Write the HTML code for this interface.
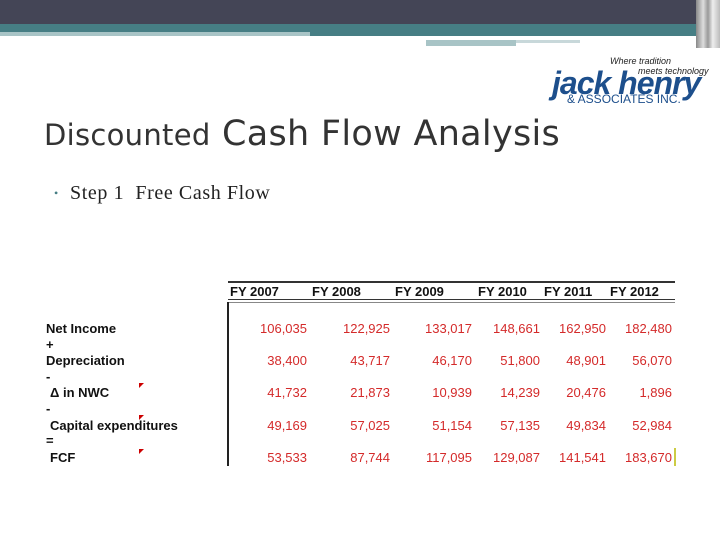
<!DOCTYPE html>
<html><head><meta charset="utf-8"><style>
body{margin:0;width:720px;height:540px;position:relative;background:#fff;overflow:hidden;font-family:"Liberation Sans",sans-serif}
.a{position:absolute}
.lbl{position:absolute;left:46px;font-weight:bold;font-size:13px;color:#111}
.num{position:absolute;font-size:13px;color:#d42a2a;text-align:right;width:80px}
.hd{position:absolute;top:284px;font-weight:bold;font-size:13px;color:#111}
.tri{position:absolute;width:0;height:0;border-top:5px solid #c00;border-right:5px solid transparent}
</style></head><body>
<div class="a" style="left:0;top:0;width:720px;height:24px;background:#444556"></div>
<div class="a" style="left:0;top:24px;width:720px;height:8px;background:#467e84"></div>
<div class="a" style="left:0;top:32px;width:310px;height:4px;background:#a8c4c6"></div>
<div class="a" style="left:310px;top:32px;width:410px;height:4px;background:#467e84"></div>
<div class="a" style="left:426px;top:40px;width:90px;height:6px;background:#a8c4c6"></div>
<div class="a" style="left:516px;top:40px;width:64px;height:3px;background:#c8d8da"></div>
<div class="a" style="left:696px;top:0;width:24px;height:48px;background:linear-gradient(90deg,#888 0,#ddd 30%,#999 50%,#eee 70%,#bbb 100%)"></div>
<div class="a" style="left:610px;top:56px;font-size:9px;font-style:italic;color:#222;line-height:10px">Where tradition<br><span style="padding-left:28px">meets technology</span></div>
<div class="a" style="left:552px;top:65px;font-size:32px;font-weight:bold;font-style:italic;color:#1d4f8c;letter-spacing:-1px">jack henry</div>
<div class="a" style="left:567px;top:92px;font-size:12px;color:#1d4f8c">&amp; ASSOCIATES INC.</div>
<div class="a" style="left:44px;top:114px;font-family:'DejaVu Sans',sans-serif;font-size:35px;color:#333;letter-spacing:0.3px"><span style="font-size:29px">Discounted</span> Cash Flow Analysis</div>
<div class="a" style="left:54px;top:182px;font-family:'Liberation Serif',serif;font-size:20px;color:#222;letter-spacing:0.6px"><span style="color:#467e84;font-size:12px;vertical-align:2px">•</span>&nbsp; Step 1&nbsp; Free Cash Flow</div>
<div class="a" style="left:228px;top:281px;width:447px;height:2px;background:#333"></div>
<div class="a" style="left:228px;top:299px;width:447px;height:1px;background:#333"></div>
<div class="a" style="left:228px;top:302px;width:447px;height:1px;background:#888"></div>
<div class="a" style="left:227px;top:302px;width:2px;height:164px;background:#222"></div>
<div class="a" style="left:674px;top:448px;width:2px;height:18px;background:#cc4"></div>
<div class="hd" style="left:230px">FY 2007</div>
<div class="hd" style="left:312px">FY 2008</div>
<div class="hd" style="left:395px">FY 2009</div>
<div class="hd" style="left:478px">FY 2010</div>
<div class="hd" style="left:544px">FY 2011</div>
<div class="hd" style="left:610px">FY 2012</div>
<div class="lbl" style="top:321px">Net Income</div>
<div class="lbl" style="top:337px">+</div>
<div class="lbl" style="top:353px">Depreciation</div>
<div class="lbl" style="top:369px">-</div>
<div class="lbl" style="top:385px;left:50px">Δ in NWC</div>
<div class="lbl" style="top:401px">-</div>
<div class="lbl" style="top:418px;left:50px">Capital expenditures</div>
<div class="lbl" style="top:433px">=</div>
<div class="lbl" style="top:450px;left:50px">FCF</div>
<div class="tri" style="left:139px;top:383px"></div>
<div class="tri" style="left:139px;top:415px"></div>
<div class="tri" style="left:139px;top:449px"></div>
<div id="nums"></div>
<script>
const rows=["net-income","depreciation","nwc","capex","fcf"];
const values=[
["106,035","122,925","133,017","148,661","162,950","182,480"],
["38,400","43,717","46,170","51,800","48,901","56,070"],
["41,732","21,873","10,939","14,239","20,476","1,896"],
["49,169","57,025","51,154","57,135","49,834","52,984"],
["53,533","87,744","117,095","129,087","141,541","183,670"]];
const colRight=[307,390,472,540,606,672];
const rowTop=[321,353,385,418,450];
const c=document.getElementById('nums');
values.forEach((r,i)=>r.forEach((v,j)=>{
const d=document.createElement('div');
d.className='num';


d.style.left=(colRight[j]-80)+'px';d.style.top=rowTop[i]+'px';
d.textContent=v;c.appendChild(d);}));
</script>
</body></html>
